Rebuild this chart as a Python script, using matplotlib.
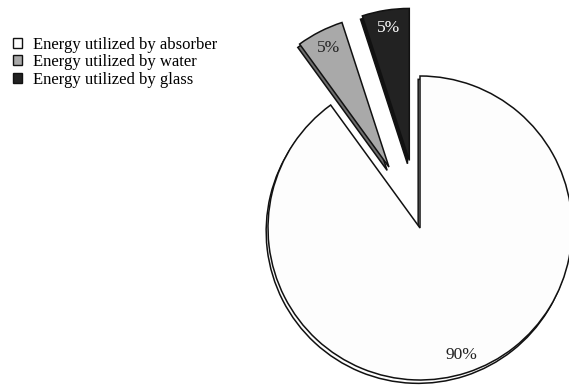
import matplotlib
matplotlib.use('Agg')
import matplotlib.pyplot as plt

# energy split shown on the pie
labels = ['Energy utilized by absorber', 'Energy utilized by water', 'Energy utilized by glass']
shares = [90, 5, 5]
colours = ['#fdfdfd', '#a9a9a9', '#222222']
side_colours = ['#fdfdfd', '#6e6e6e', '#111111']
text_colours = ['#222222', '#222222', '#ffffff']
explode = [0, 0.45, 0.45]

plt.rcParams['font.family'] = ['Liberation Serif', 'DejaVu Serif']

fig = plt.figure(figsize=(5.69, 3.88), dpi=100)
ax = fig.add_axes([0, 0, 1, 1])

## depth layer, shifted down-left a bit
ax.pie(shares, explode=explode, colors=side_colours, startangle=90, counterclock=False,
       center=(-0.012, -0.022), radius=1,
       wedgeprops=dict(edgecolor='#111111', linewidth=1.1))

## main layer
wedges, texts, autotexts = ax.pie(shares, explode=explode, colors=colours, startangle=90,
                                  counterclock=False, center=(0, 0), radius=1,
                                  autopct='%d%%', pctdistance=0.88,
                                  wedgeprops=dict(edgecolor='#111111', linewidth=1.1),
                                  textprops=dict(fontsize=12.5))
for t, c in zip(autotexts, text_colours):
    t.set_color(c)

ax.set_aspect('equal')
ax.set_xlim(-420 / 152, 149 / 152)
ax.set_ylim(-160 / 152, 228 / 152)
ax.axis('off')

leg = ax.legend(wedges, labels, loc='upper left', bbox_to_anchor=(0.022, 0.905),
                bbox_transform=fig.transFigure, frameon=False, fontsize=12,
                handlelength=0.55, handleheight=0.55, handletextpad=0.65,
                labelspacing=0.08, borderaxespad=0, borderpad=0)
for h in leg.legend_handles:
    h.set_linewidth(1.0)

fig.savefig('out.png', dpi=100)
